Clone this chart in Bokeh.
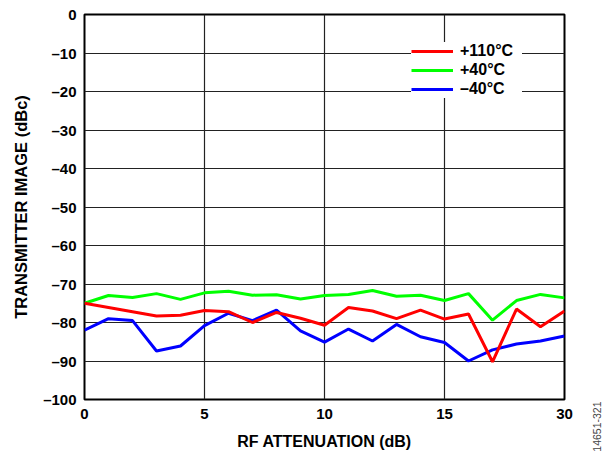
from bokeh.plotting import figure
from bokeh.layouts import row
from bokeh.models import (Range1d, FixedTicker, Legend, LegendItem,
                          ColumnDataSource)
from bokeh.embed import file_html
from bokeh.resources import INLINE
import math

# ---- data ----
attenuation_db = list(range(0, 21))
image_110c = [-75.0, -76.1, -77.2, -78.3, -78.1, -76.9, -77.2, -80.0, -77.4, -78.9, -80.7,
              -76.1, -77.0, -79.0, -76.8, -79.1, -77.8, -90.2, -76.5, -81.1, -77.0]
image_40c = [-75.0, -73.0, -73.5, -72.5, -74.0, -72.3, -71.9, -72.9, -72.8, -73.9, -73.0,
             -72.7, -71.7, -73.2, -72.9, -74.3, -72.5, -79.4, -74.3, -72.7, -73.6]
image_m40c = [-82.0, -79.0, -79.5, -87.4, -86.1, -80.8, -77.6, -79.5, -76.8, -82.2, -85.1,
              -81.7, -84.8, -80.5, -83.7, -85.2, -90.0, -87.1, -85.6, -84.8, -83.5]
series_labels = ["+110°C", "+40°C", "\u201340°C"]
x_ticks = [0, 5, 10, 15, 20]
x_tick_labels = ["0", "5", "10", "15", "30"]
y_ticks = list(range(-100, 1, 10))
y_tick_labels = ["\u2013" + str(-t) if t < 0 else str(t) for t in y_ticks]
figure_id = "14651-321"

FONT = "Liberation Sans"

p = figure(width=588, height=454, output_backend="svg", toolbar_location=None,
           x_range=Range1d(0, 20), y_range=Range1d(-100, 0),
           min_border_left=84, min_border_right=24, min_border_top=14, min_border_bottom=54)
p.background_fill_color = "white"
p.border_fill_color = "white"
p.outline_line_color = "black"
p.outline_line_width = 2

src = ColumnDataSource(dict(x=attenuation_db, r=image_110c, g=image_40c, b=image_m40c))
rb = p.line("x", "b", source=src, line_color="#0000FF", line_width=3)
rg = p.line("x", "g", source=src, line_color="#00FF00", line_width=3)
rr = p.line("x", "r", source=src, line_color="#FF0000", line_width=3)

p.xaxis.ticker = FixedTicker(ticks=x_ticks)
p.xaxis.major_label_overrides = dict(zip(x_ticks, x_tick_labels))
p.yaxis.ticker = FixedTicker(ticks=y_ticks)
p.yaxis.major_label_overrides = dict(zip(y_ticks, y_tick_labels))

for ax in (p.xaxis[0], p.yaxis[0]):
    ax.axis_line_color = None
    ax.major_tick_line_color = None
    ax.minor_tick_line_color = None
    ax.major_tick_out = 0
    ax.major_tick_in = 0
    ax.major_label_text_font = FONT
    ax.major_label_text_font_style = "bold"
    ax.major_label_text_font_size = "15px"
    ax.major_label_text_color = "black"
    ax.axis_label_text_font = FONT
    ax.axis_label_text_font_style = "bold"
    ax.axis_label_text_font_size = "16px"
    ax.axis_label_text_color = "black"

p.xaxis.axis_label = "RF ATTENUATION (dB)"
p.yaxis.axis_label = "TRANSMITTER IMAGE (dBc)"
p.yaxis.axis_label_text_font_size = "16.5px"
p.xaxis.major_label_standoff = 9
p.xaxis.axis_label_standoff = 11
p.yaxis.major_label_standoff = 8
p.yaxis.axis_label_standoff = 10

p.xgrid.ticker = FixedTicker(ticks=x_ticks)
p.ygrid.ticker = FixedTicker(ticks=y_ticks)
for g in (p.xgrid[0], p.ygrid[0]):
    g.grid_line_color = "#222222"
    g.grid_line_width = 1.2
    g.grid_line_alpha = 1.0

legend = Legend(items=[LegendItem(label=series_labels[0], renderers=[rr]),
                       LegendItem(label=series_labels[1], renderers=[rg]),
                       LegendItem(label=series_labels[2], renderers=[rb])],
                location=(327, 301))
legend.background_fill_color = "white"
legend.background_fill_alpha = 1.0
legend.border_line_color = None
legend.label_text_font = FONT
legend.label_text_font_style = "bold"
legend.label_text_font_size = "16px"
legend.label_text_color = "black"
legend.glyph_width = 42
legend.glyph_height = 18
legend.label_height = 18
legend.label_width = 62
legend.label_standoff = 7
legend.spacing = 1
legend.padding = 8
legend.margin = 0
p.add_layout(legend, "center")

# narrow side strip: the vertical figure id is drawn as a rotated tick label
side = figure(width=17, height=454, output_backend="svg", toolbar_location=None,
              x_range=Range1d(0, 1), y_range=Range1d(0, 1),
              x_axis_location="below", y_axis_location=None,
              min_border_left=0, min_border_right=0, min_border_top=14, min_border_bottom=54)
side.outline_line_color = None
side.xgrid.visible = False
side.ygrid.visible = False
side.background_fill_color = "white"
side.border_fill_color = "white"
sax = side.xaxis[0]
sax.ticker = FixedTicker(ticks=[0.5])
sax.major_label_overrides = {0.5: figure_id}
sax.major_label_orientation = math.pi / 2
sax.axis_line_color = None
sax.major_tick_line_color = None
sax.minor_tick_line_color = None
sax.major_tick_out = 0
sax.major_tick_in = 0
sax.major_label_standoff = 2
sax.major_label_text_font = FONT
sax.major_label_text_font_size = "10.5px"
sax.major_label_text_color = "#444444"

layout = row(p, side, spacing=0)
open("out.html", "w").write(file_html(layout, INLINE))
